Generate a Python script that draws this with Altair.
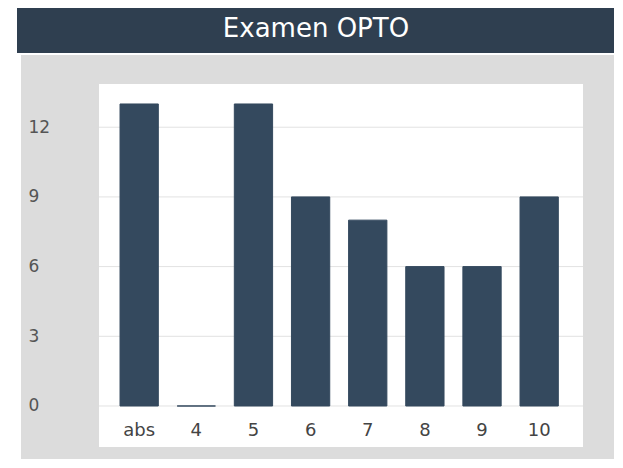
import altair as alt
import pandas as pd

# ---- data ----
TITLE = "Examen OPTO"
categories = ["abs", "4", "5", "6", "7", "8", "9", "10"]
counts = [13, 0, 13, 9, 8, 6, 6, 9]
y_ticks = [0, 3, 6, 9, 12]

bars_df = pd.DataFrame({"nota": categories, "n": counts})
grid_df = pd.DataFrame({"n": y_ticks})
one = pd.DataFrame({"t": [TITLE]})

W, H = 484, 363
Y_DOMAIN = [-1.765, 13.86]
FONT = "DejaVu Sans"
BAR = "#34495e"
HEAD = "#2f3f50"
PANEL = "#dcdcdc"

yscale = alt.Scale(domain=Y_DOMAIN, nice=False, zero=False)
yaxis = alt.Axis(
    title=None, values=y_ticks, domain=False, ticks=False, grid=False,
    labelAlign="left", labelPadding=71, labelFont=FONT, labelFontSize=17,
    labelColor="#555555", zindex=1,
)

# decorative panels
head = alt.Chart(one).mark_rect(color=HEAD).encode(
    x=alt.value(-82), x2=alt.value(540), y=alt.value(-80), y2=alt.value(-31)
)
panel = alt.Chart(one).mark_rect(color=PANEL).encode(
    x=alt.value(-78), x2=alt.value(520), y=alt.value(-29), y2=alt.value(420)
)
plotbg = alt.Chart(one).mark_rect(color="white").encode(
    x=alt.value(0), x2=alt.value(W), y=alt.value(0), y2=alt.value(H)
)
title = alt.Chart(one).mark_text(
    font=FONT, fontSize=26, color="white", align="center", baseline="middle"
).encode(x=alt.value(217), y=alt.value(-55), text="t:N")

grid = alt.Chart(grid_df).mark_rule(color="#e2e2e2", strokeWidth=1).encode(
    y=alt.Y("n:Q", scale=yscale, axis=yaxis)
)

bars = alt.Chart(bars_df).mark_bar(color=BAR, stroke=BAR, strokeWidth=1).encode(
    x=alt.X(
        "nota:N",
        sort=categories,
        scale=alt.Scale(paddingInner=0.33, paddingOuter=0.4, align=0.46),
        axis=alt.Axis(
            title=None, orient="bottom", offset=-30, domain=False, ticks=False,
            grid=False, labelAngle=0, labelFont=FONT, labelFontSize=18,
            labelColor="#444444", labelPadding=4, zindex=1,
        ),
    ),
    y=alt.Y("n:Q", scale=yscale, axis=yaxis),
)

chart = (
    alt.layer(head, panel, plotbg, title, grid, bars)
    .properties(
        width=W,
        height=H,
        autosize=alt.AutoSizeParams(type="none"),
        padding={"left": 91, "top": 76, "right": 31, "bottom": 12},
        background="white",
    )
    .configure_view(stroke=None)
)

chart.save("out.html", embed_options={"renderer": "svg", "actions": False})
